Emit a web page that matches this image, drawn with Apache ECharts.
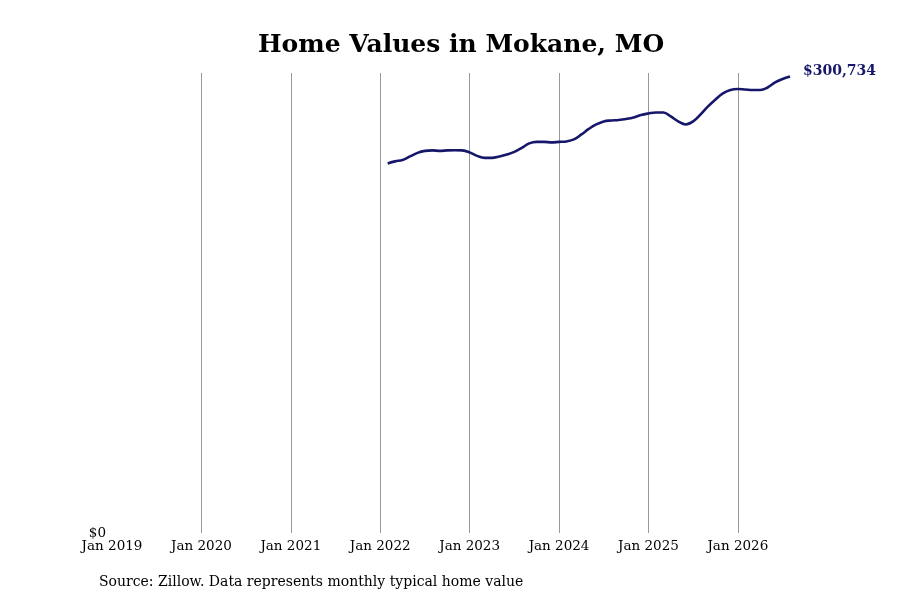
<!DOCTYPE html>
<html>
<head>
<meta charset="utf-8">
<script src="https://cdn.jsdelivr.net/npm/echarts@6/dist/echarts.min.js"></script>
<style>
  html, body { margin: 0; padding: 0; background: #fff; }
  #chart { width: 900px; height: 600px; }
</style>
</head>
<body>
<div id="chart"></div>
<script>
// monthly typical home value, Feb 2022 .. Aug 2026
var startMonth = "2022-02";
var homeValues = [
  243460, 244780, 245760, 248070, 250370, 251690, 252010, 251690, 252010, 252150, 252010,
  250700, 248400, 247080, 247080, 248070, 249380, 251030, 253660, 256620, 257610, 257610, 257280,
  257610, 257940, 259250, 262540, 266160, 269120, 271100, 271750, 272080, 272740, 273730, 275370,
  276360, 277020, 277020, 274390, 271100, 269120, 271100, 275700, 280970, 285570, 289520, 291820,
  292480, 292150, 291820, 291820, 293470, 296760, 299060, 300734
];
var tickLabels = ["Jan 2019", "Jan 2020", "Jan 2021", "Jan 2022", "Jan 2023", "Jan 2024", "Jan 2025", "Jan 2026"];
var baseYear = 2019;

// months since Jan 2019
var s = startMonth.split("-");
var firstIdx = (parseInt(s[0]) - baseYear) * 12 + parseInt(s[1]) - 1;
var points = homeValues.map(function (v, i) { return [firstIdx + i, v]; });
var lastIdx = firstIdx + homeValues.length - 1;

var serif = "DejaVu Serif";
var chart = echarts.init(document.getElementById("chart"));
chart.setOption({
  animation: false,
  title: {
    text: "Home Values in Mokane, MO",
    left: 253,
    top: 28,
    textStyle: { fontFamily: serif, fontSize: 25, fontWeight: "bold", color: "#000" }
  },
  grid: { left: 112, right: 110, top: 73, bottom: 67 },
  xAxis: {
    type: "value",
    min: 0,
    max: lastIdx,
    interval: 12,
    axisLine: { show: false },
    axisTick: { show: false },
    splitLine: { show: true, showMinLine: false, showMaxLine: false, lineStyle: { color: "#999", width: 1 } },
    axisLabel: {
      margin: 6,
      showMaxLabel: false,
      fontFamily: serif,
      fontSize: 13.5,
      color: "#000",
      formatter: function (v) { return tickLabels[v / 12] || ""; }
    }
  },
  yAxis: {
    type: "value",
    min: 0,
    max: 303000,
    interval: 303000,
    axisLine: { show: false },
    axisTick: { show: false },
    splitLine: { show: false },
    axisLabel: {
      margin: 6,
      fontFamily: serif,
      fontSize: 13.5,
      color: "#000",
      verticalAlign: "middle",
      padding: [9, 0, 0, 0],
      formatter: function (v) { return v === 0 ? "$0" : ""; }
    }
  },
  series: [{
    type: "line",
    data: points,
    smooth: 0.4,
    showSymbol: false,
    lineStyle: { color: "#16166b", width: 2.6 },
    endLabel: {
      show: true,
      distance: 13,
      offset: [0, -5],
      fontFamily: serif,
      fontSize: 14,
      fontWeight: "bold",
      color: "#16166b",
      formatter: function (p) { return "$" + p.value[1].toLocaleString("en-US"); }
    }
  }],
  graphic: [{
    type: "text",
    left: 99,
    top: 575,
    style: {
      text: "Source: Zillow. Data represents monthly typical home value",
      font: "14px 'DejaVu Serif'",
      fill: "#000"
    }
  }]
});
</script>
</body>
</html>
